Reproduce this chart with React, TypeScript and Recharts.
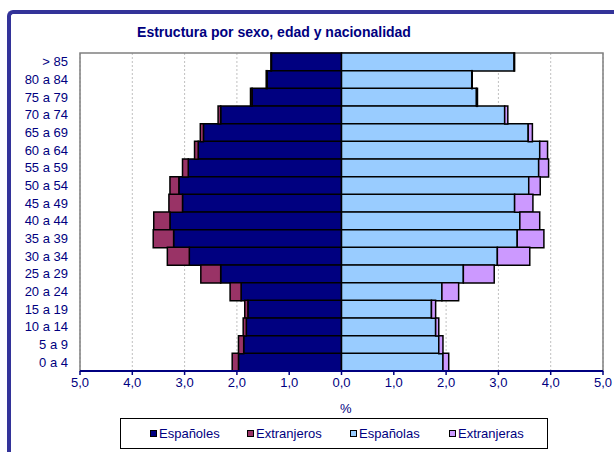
import React from 'react'
import { BarChart, Bar, XAxis, YAxis, CartesianGrid, ReferenceArea } from 'recharts'

const ageGroups = ['> 85', '80 a 84', '75 a 79', '70 a 74', '65 a 69', '60 a 64', '55 a 59', '50 a 54', '45 a 49',
  '40 a 44', '35 a 39', '30 a 34', '25 a 29', '20 a 24', '15 a 19', '10 a 14', '5 a 9', '0 a 4']
const espanoles = [1.34, 1.42, 1.71, 2.31, 2.64, 2.74, 2.93, 3.11, 3.04, 3.28, 3.21, 2.91, 2.31, 1.92, 1.79, 1.82, 1.87, 1.97]
const extranjeros = [0.01, 0.02, 0.03, 0.05, 0.06, 0.07, 0.11, 0.17, 0.26, 0.31, 0.39, 0.42, 0.38, 0.21, 0.06, 0.06, 0.1, 0.12]
const espanolas = [3.3, 2.49, 2.58, 3.12, 3.57, 3.79, 3.77, 3.58, 3.31, 3.41, 3.36, 2.98, 2.33, 1.92, 1.72, 1.8, 1.86, 1.94]
const extranjeras = [0.01, 0.01, 0.02, 0.06, 0.08, 0.15, 0.19, 0.22, 0.35, 0.38, 0.51, 0.62, 0.59, 0.32, 0.08, 0.06, 0.08, 0.11]
const xTicks = [-5, -4, -3, -2, -1, 0, 1, 2, 3, 4, 5]

const series = [
  { key: 'espanoles', name: 'Españoles', color: '#000080' },
  { key: 'extranjeros', name: 'Extranjeros', color: '#993366' },
  { key: 'espanolas', name: 'Españolas', color: '#99ccff' },
  { key: 'extranjeras', name: 'Extranjeras', color: '#cc99ff' },
]

// men go to the left, so they are negative
const data = ageGroups.map((age, i) => ({
  age,
  espanoles: -espanoles[i],
  extranjeros: -extranjeros[i],
  espanolas: espanolas[i],
  extranjeras: extranjeras[i],
}))

const font = '"Liberation Sans", Arial, sans-serif'
const navy = '#000080'

const fmt = (v: number) => Math.abs(v).toFixed(1).replace('.', ',')

export default function App() {
  return (
    <div style={{ position: 'absolute', left: 0, top: 0, width: 614, height: 452, overflow: 'hidden', background: '#fff', fontFamily: font }}>
      <div style={{
        position: 'absolute', left: 7, top: 10, width: 640, height: 480,
        borderLeft: '4px solid #333399', borderTop: '4px solid #333399', borderTopLeftRadius: 6,
      }} />
      <div style={{
        position: 'absolute', left: 74, top: 24, width: 400, textAlign: 'center',
        fontSize: 14, fontWeight: 'bold', color: navy,
      }}>
        Estructura por sexo, edad y nacionalidad
      </div>
      <div style={{ position: 'absolute', left: 0, top: 0 }}>
        <BarChart width={614} height={452} data={data} layout="vertical" stackOffset="sign"
          barCategoryGap={0} margin={{ top: 53, right: 11, left: 0, bottom: 51 }}>
          <CartesianGrid horizontal={false} stroke="#c0c0c0" strokeDasharray="2 2" />
          <ReferenceArea x1={-5} x2={5} stroke="#808080" strokeWidth={1.5} fill="none" fillOpacity={0} ifOverflow="visible" />
          <XAxis type="number" domain={[-5, 5]} ticks={xTicks} tickFormatter={fmt} height={30}
            axisLine={{ stroke: navy, strokeWidth: 2 }} tickLine={{ stroke: navy, strokeWidth: 1.5 }}
            tickSize={4} tickMargin={3} tick={{ fill: navy, fontSize: 13, fontFamily: font }} />
          <YAxis type="category" dataKey="age" width={80} axisLine={false} tickLine={false}
            tickSize={0} tickMargin={12} interval={0} tick={{ fill: navy, fontSize: 13, fontFamily: font }} />
          {series.map(s => (
            <Bar key={s.key} dataKey={s.key} name={s.name} stackId="a" fill={s.color}
              stroke="#000" strokeWidth={1.5} isAnimationActive={false} />
          ))}
        </BarChart>
      </div>
      <div style={{ position: 'absolute', left: 340, top: 401, fontSize: 13, color: navy }}>%</div>
      <div style={{
        position: 'absolute', left: 120, top: 418, width: 426, height: 29,
        border: '1px solid #000', boxSizing: 'content-box',
      }}>
        {series.map((s, i) => (
          <div key={s.key} style={{
            position: 'absolute', left: [29, 126, 229, 328][i], top: 7,
            display: 'flex', alignItems: 'center', fontSize: 13, color: navy,
          }}>
            <span style={{ width: 5, height: 5, background: s.color, border: '1px solid #000', marginRight: 2 }} />
            {s.name}
          </div>
        ))}
      </div>
    </div>
  )
}
